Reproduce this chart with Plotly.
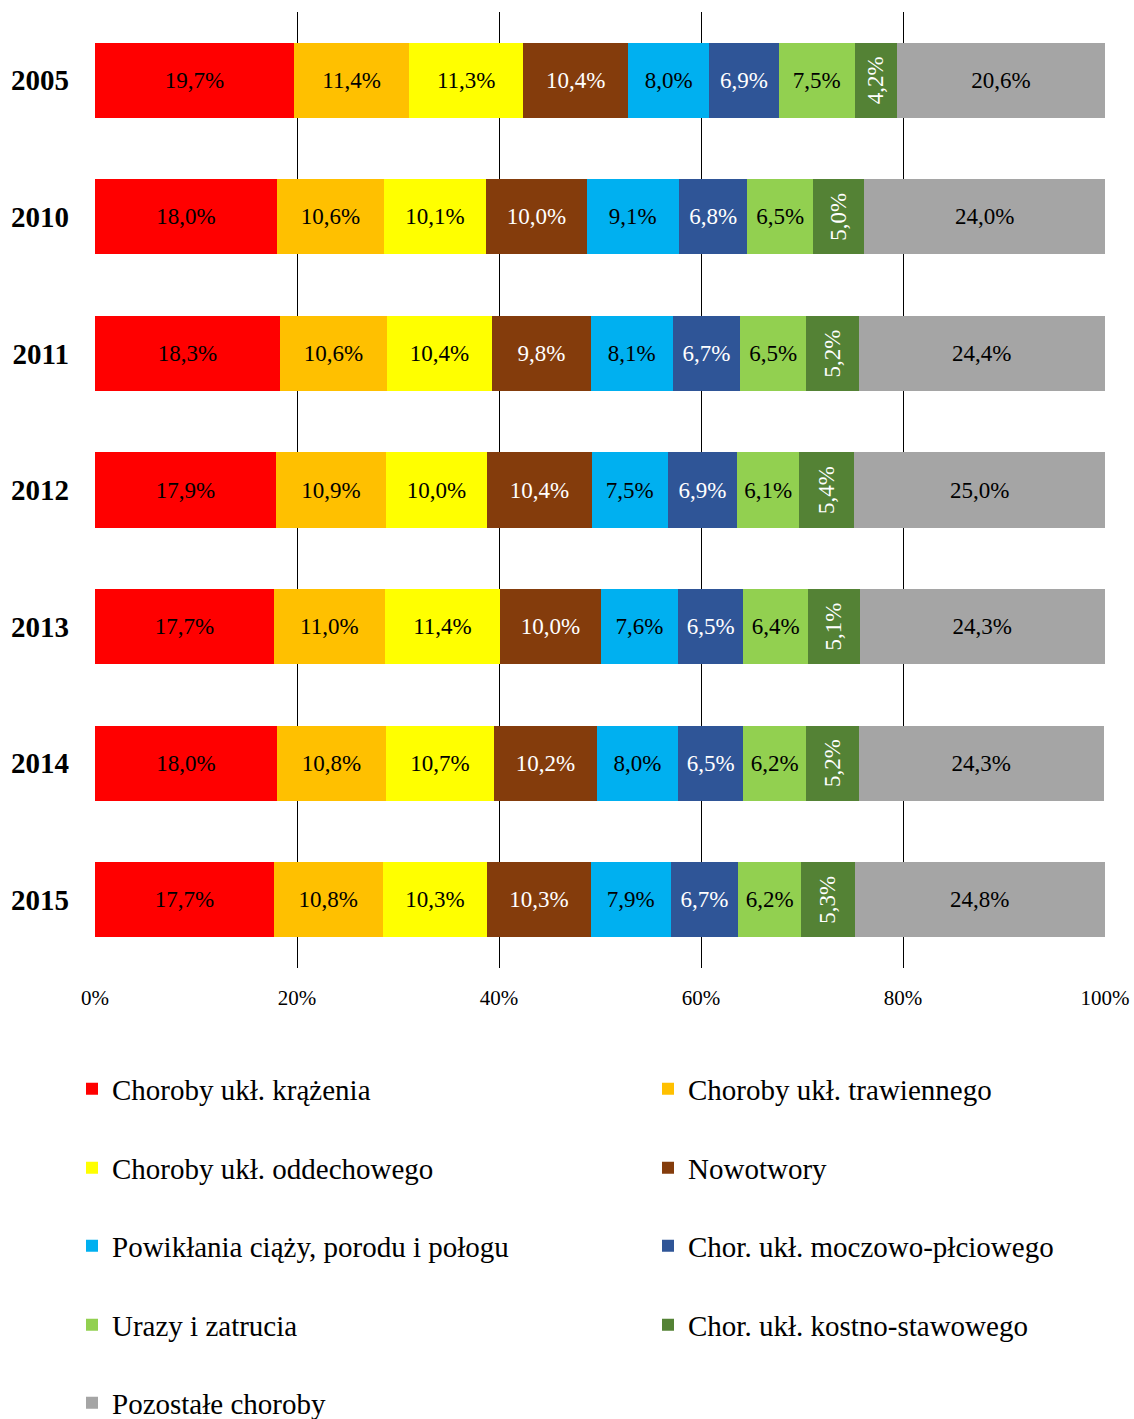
import plotly.graph_objects as go

years = ["2005", "2010", "2011", "2012", "2013", "2014", "2015"]
categories = [
    "Choroby ukł. krążenia",
    "Choroby ukł. trawiennego",
    "Choroby ukł. oddechowego",
    "Nowotwory",
    "Powikłania ciąży, porodu i połogu",
    "Chor. ukł. moczowo-płciowego",
    "Urazy i zatrucia",
    "Chor. ukł. kostno-stawowego",
    "Pozostałe choroby",
]
krazenia = [19.7, 18.0, 18.3, 17.9, 17.7, 18.0, 17.7]
trawienny = [11.4, 10.6, 10.6, 10.9, 11.0, 10.8, 10.8]
oddechowy = [11.3, 10.1, 10.4, 10.0, 11.4, 10.7, 10.3]
nowotwory = [10.4, 10.0, 9.8, 10.4, 10.0, 10.2, 10.3]
ciaza = [8.0, 9.1, 8.1, 7.5, 7.6, 8.0, 7.9]
moczowy = [6.9, 6.8, 6.7, 6.9, 6.5, 6.5, 6.7]
urazy = [7.5, 6.5, 6.5, 6.1, 6.4, 6.2, 6.2]
kostny = [4.2, 5.0, 5.2, 5.4, 5.1, 5.2, 5.3]
pozostale = [20.6, 24.0, 24.4, 25.0, 24.3, 24.3, 24.8]
series = [krazenia, trawienny, oddechowy, nowotwory, ciaza, moczowy, urazy, kostny, pozostale]

colors = ["#FF0000", "#FFC000", "#FFFF00", "#843C0C", "#00B0F0",
          "#2F5597", "#92D050", "#548235", "#A5A5A5"]
text_colors = ["black", "black", "black", "white", "black",
               "white", "black", "white", "black"]
text_angles = [0, 0, 0, 0, 0, 0, 0, -90, 0]

FONT = "Liberation Serif"

# target geometry in screen px (page body margin is removed below)
PL, PR, PT, PB = 95, 1105, 12, 968
W, H = 1134, 1419
PW, PH = PR - PL, PB - PT

def xpaper(px):
    return (px - PL) / PW

def ypaper(px):
    return (PB - px) / PH

rows = [1089, 1168, 1246, 1325, 1403]
cols = [72, 648]

fig = go.Figure()
layout_legends = {}
for i, (name, vals) in enumerate(zip(categories, series)):
    key = "legend" if i == 0 else f"legend{i+1}"
    fig.add_trace(go.Bar(
        y=years, x=[v / 100 for v in vals], orientation="h", name=name,
        marker=dict(color=colors[i], line=dict(width=0)),
        text=[f"{v:.1f}%".replace(".", ",") for v in vals],
        textposition="inside", insidetextanchor="middle",
        textangle=text_angles[i],
        textfont=dict(family=FONT, size=23, color=text_colors[i]),
        constraintext="none",
        hoverinfo="skip",
        legend=key,
    ))
    layout_legends[key] = dict(
        x=xpaper(cols[i % 2]), y=ypaper(rows[i // 2]),
        xanchor="left", yanchor="middle", orientation="v",
        font=dict(family=FONT, size=29, color="black"),
        bgcolor="rgba(0,0,0,0)", borderwidth=0,
        itemclick=False, itemdoubleclick=False,
    )

fig.update_layout(
    barmode="stack",
    bargap=0.45,
    width=W, height=H,
    margin=dict(l=PL, r=W - PR, t=PT, b=H - PB, autoexpand=False),
    plot_bgcolor="white", paper_bgcolor="white",
    font=dict(family=FONT, color="black"),
    showlegend=True,
    hovermode=False,
    xaxis=dict(
        range=[0, 1], tickvals=[0, 0.2, 0.4, 0.6, 0.8, 1.0],
        tickformat=".0%", showgrid=True, gridcolor="black", gridwidth=1,
        zeroline=False, showline=False,
        tickfont=dict(family=FONT, size=21, color="black"),
        ticks="", ticklabelstandoff=15, fixedrange=True,
    ),
    yaxis=dict(
        type="category", autorange="reversed",
        tickfont=dict(family=FONT, size=29, color="black", weight="bold"),
        showgrid=False, zeroline=False, showline=False, ticks="",
        ticklabelstandoff=25, fixedrange=True,
    ),
    **layout_legends,
)

fig.write_html(
    "out.html",
    config={"displayModeBar": False, "staticPlot": False},
    default_width=f"{W}px", default_height=f"{H}px",
    post_script="document.body.style.margin='0px';"
                "document.documentElement.style.overflow='hidden';"
                "document.body.style.overflow='hidden';",
)
